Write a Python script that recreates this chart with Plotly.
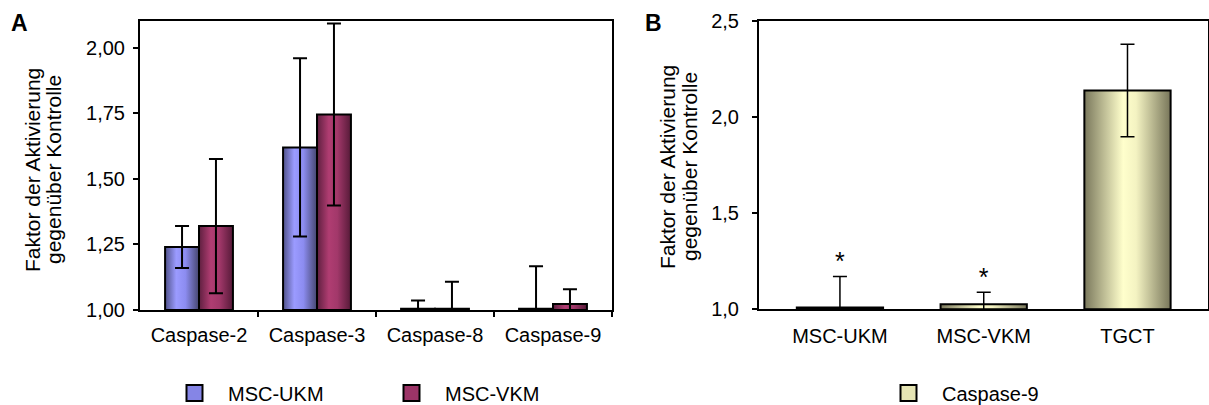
import plotly.graph_objects as go

# ---------------- data ----------------
categories_a = ["Caspase-2", "Caspase-3", "Caspase-8", "Caspase-9"]
ukm_values = [1.24, 1.62, 1.005, 1.005]
ukm_errors = [0.08, 0.34, 0.031, 0.162]
vkm_values = [1.32, 1.745, 1.005, 1.023]
vkm_errors = [0.256, 0.347, 0.103, 0.056]

categories_b = ["MSC-UKM", "MSC-VKM", "TGCT"]
casp9_values = [1.01, 1.026, 2.137]
casp9_errors = [0.161, 0.062, 0.24]
casp9_marks = ["*", "*", ""]

y_title_lines = ["Faktor der Aktivierung", "gegenüber Kontrolle"]

series_a = [
    ("MSC-UKM", ukm_values, ukm_errors),
    ("MSC-VKM", vkm_values, vkm_errors),
]

# ---------------- style ----------------
FONT = "Liberation Sans, Arial, sans-serif"
W, H = 1209, 405
scales = {
    "MSC-UKM": [[0, "#50528a"], [0.33, "#9b9bff"], [0.6, "#8c8cf0"], [1, "#45466f"]],
    "MSC-VKM": [[0, "#5e1f3f"], [0.35, "#b03d72"], [0.6, "#a2386a"], [1, "#561a38"]],
    "Caspase-9": [[0, "#7a785c"], [0.45, "#ffffcc"], [0.6, "#f4f3c2"], [1, "#78765a"]],
}
legend_colors = {"MSC-UKM": "#8585e6", "MSC-VKM": "#9c3467", "Caspase-9": "#e6e5b4"}

BASE = 1.0
GROUP_A = 0.575          # fraction of category occupied by the bar group
BAR_B = 0.6

fig = go.Figure()


def add_bar(x0, x1, top, scale, xa, ya):
    fig.add_trace(go.Scatter(
        x=[x0, x1, x1, x0, x0], y=[BASE, BASE, top, top, BASE],
        fill="toself", mode="lines",
        line=dict(color="black", width=2),
        fillgradient=dict(type="horizontal", colorscale=scale),
        xaxis=xa, yaxis=ya, showlegend=False, hoverinfo="skip"))


# panel A bars
bw = GROUP_A / len(series_a)
for si, (name, vals, errs) in enumerate(series_a):
    centers = []
    for ci, v in enumerate(vals):
        x0 = ci - GROUP_A / 2 + si * bw
        add_bar(x0, x0 + bw, v, scales[name], "x", "y")
        centers.append(x0 + bw / 2)
    fig.add_trace(go.Scatter(
        x=centers, y=vals, mode="markers",
        marker=dict(size=1, color="rgba(0,0,0,0)"),
        error_y=dict(type="data", array=errs, color="black", thickness=2, width=7),
        xaxis="x", yaxis="y", showlegend=False, hoverinfo="skip"))
    fig.add_trace(go.Scatter(
        x=[None], y=[None], mode="markers", name=name, legend="legend",
        marker=dict(symbol="square", size=16, color=legend_colors[name],
                    line=dict(color="black", width=2))))

# panel B bars
for ci, v in enumerate(casp9_values):
    add_bar(ci - BAR_B / 2, ci + BAR_B / 2, v, scales["Caspase-9"], "x2", "y2")
fig.add_trace(go.Scatter(
    x=list(range(len(categories_b))), y=casp9_values, mode="markers",
    marker=dict(size=1, color="rgba(0,0,0,0)"),
    error_y=dict(type="data", array=casp9_errors, color="black", thickness=1.5, width=7),
    xaxis="x2", yaxis="y2", showlegend=False, hoverinfo="skip"))
fig.add_trace(go.Scatter(
    x=list(range(len(categories_b))),
    y=[v + e for v, e in zip(casp9_values, casp9_errors)],
    mode="text", text=casp9_marks, textposition="top center",
    textfont=dict(size=25, family=FONT, color="black"),
    xaxis="x2", yaxis="y2", showlegend=False, hoverinfo="skip"))
fig.add_trace(go.Scatter(
    x=[None], y=[None], mode="markers", name="Caspase-9", legend="legend2",
    xaxis="x2", yaxis="y2",
    marker=dict(symbol="square", size=16, color=legend_colors["Caspase-9"],
                line=dict(color="black", width=2))))

axis_common = dict(showgrid=False, zeroline=False, showline=True,
                   linecolor="black", linewidth=2, mirror=True,
                   tickcolor="black", tickwidth=1.5, automargin=False)

annotations = [
    dict(text="<b>A</b>", x=19 / W, y=1 - 23 / H, xref="paper", yref="paper",
         xanchor="center", yanchor="middle", showarrow=False, font=dict(size=23)),
    dict(text="<b>B</b>", x=653 / W, y=1 - 23 / H, xref="paper", yref="paper",
         xanchor="center", yanchor="middle", showarrow=False, font=dict(size=23)),
]
# rotated y-axis titles (two tightly spaced lines, as in the original)
for line_x, yc in (((32, 53), 170), ((667, 689), 167)):
    for lx, txt in zip(line_x, y_title_lines):
        annotations.append(dict(text=txt, textangle=-90, x=lx / W, y=1 - yc / H,
                                xref="paper", yref="paper", showarrow=False,
                                xanchor="center", yanchor="middle", font=dict(size=21)))

fig.update_layout(
    width=W, height=H, margin=dict(l=0, r=0, t=0, b=0, autoexpand=False),
    paper_bgcolor="white", plot_bgcolor="white",
    separators=",.",
    font=dict(family=FONT, size=20, color="black"),
    xaxis=dict(domain=[140 / W, 612 / W], range=[-0.5, 3.5],
               tickmode="array", tickvals=list(range(len(categories_a))),
               ticktext=categories_a, ticks="", ticklabelstandoff=6,
               minor=dict(tickmode="array", tickvals=[0.5, 1.5, 2.5, 3.5],
                          ticks="outside", ticklen=5, tickcolor="black", tickwidth=1.5),
               anchor="y", **axis_common),
    yaxis=dict(domain=[1 - 310 / H, 1 - 20.7 / H], range=[1, 2.103],
               tickmode="array", tickvals=[1, 1.25, 1.5, 1.75, 2.0], tickformat=".2f",
               ticks="outside", ticklen=5, ticklabelstandoff=4,
               anchor="x", **axis_common),
    xaxis2=dict(domain=[759 / W, 1208 / W], range=[-0.563, 2.56],
                tickmode="array", tickvals=list(range(len(categories_b))),
                ticktext=categories_b, ticks="", ticklabelstandoff=8,
                anchor="y2", **axis_common),
    yaxis2=dict(domain=[1 - 309.3 / H, 1 - 20.7 / H], range=[1, 2.5],
                tickmode="array", tickvals=[1.0, 1.5, 2.0, 2.5], tickformat=".1f",
                ticks="outside", ticklen=5, ticklabelstandoff=9,
                anchor="x2", **axis_common),
    legend=dict(orientation="h", xref="container", yref="container",
                x=161 / W, xanchor="left", y=1 - 393 / H, yanchor="middle",
                itemwidth=57, entrywidth=145, font=dict(size=20), bgcolor="rgba(0,0,0,0)"),
    legend2=dict(orientation="h", xref="container", yref="container",
                 x=875 / W, xanchor="left", y=1 - 393 / H, yanchor="middle",
                 itemwidth=57, font=dict(size=20), bgcolor="rgba(0,0,0,0)"),
    annotations=annotations,
)

fig.write_html("out.html")
